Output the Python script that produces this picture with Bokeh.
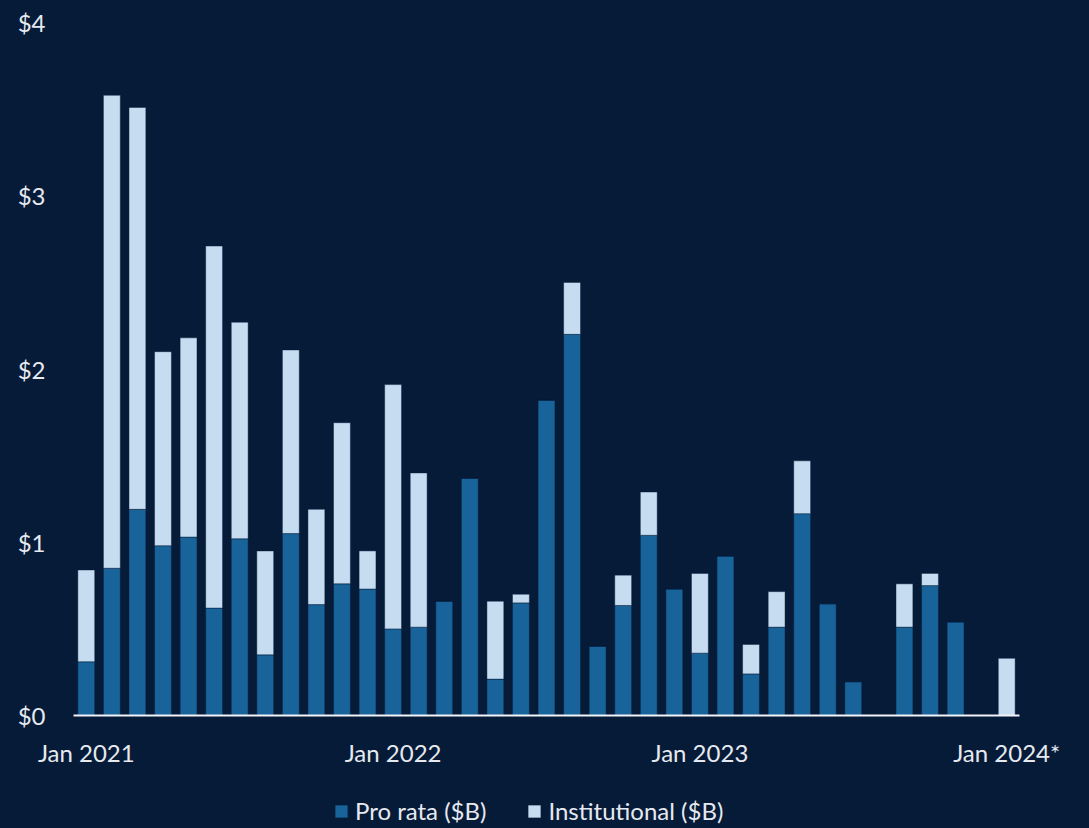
from bokeh.plotting import figure
from bokeh.models import ColumnDataSource, Range1d, FixedTicker, Legend, LegendItem
from bokeh.embed import file_html
from bokeh.resources import INLINE

months = ["2021-01", "2021-02", "2021-03", "2021-04", "2021-05", "2021-06", "2021-07", "2021-08",
          "2021-09", "2021-10", "2021-11", "2021-12", "2022-01", "2022-02", "2022-03", "2022-04",
          "2022-05", "2022-06", "2022-07", "2022-08", "2022-09", "2022-10", "2022-11", "2022-12",
          "2023-01", "2023-02", "2023-03", "2023-04", "2023-05", "2023-06", "2023-07", "2023-08",
          "2023-09", "2023-10", "2023-11", "2023-12", "2024-01"]
pro_rata = [0.31, 0.85, 1.19, 0.98, 1.03, 0.62, 1.02, 0.35, 1.05, 0.64, 0.76, 0.73,
            0.50, 0.51, 0.66, 1.37, 0.21, 0.65, 1.82, 2.20, 0.40, 0.635, 1.04, 0.73,
            0.36, 0.92, 0.24, 0.51, 1.165, 0.645, 0.195, 0.0, 0.51, 0.75, 0.54, 0.0, 0.0]
institutional = [0.53, 2.73, 2.32, 1.12, 1.15, 2.09, 1.25, 0.60, 1.06, 0.55, 0.93, 0.22,
                 1.41, 0.89, 0.0, 0.0, 0.45, 0.05, 0.0, 0.30, 0.0, 0.175, 0.25, 0.0,
                 0.46, 0.0, 0.17, 0.205, 0.305, 0.0, 0.0, 0.0, 0.25, 0.07, 0.0, 0.0, 0.33]
series_labels = ["Pro rata ($B)", "Institutional ($B)"]
x_tick_positions = [0, 12, 24, 36]
x_tick_labels = ["Jan 2021", "Jan 2022", "Jan 2023", "Jan 2024*"]
y_tick_positions = [0, 1, 2, 3, 4]
y_tick_labels = ["$0", "$1", "$2", "$3", "$4"]

BG = "#061B38"
PRO = "#17639A"
INST = "#C6DCF1"
TXT = "#E6EAF0"
FONT = "Lato"

# layout (pixels): plotting area of the bars inside the 1089x828 canvas
W, H = 1089, 828
LEFT, RIGHT, TOP, BOTTOM = 73, 1019, 22, 715
Y_MAX = 4
n = len(months)
x_lo, x_hi = -0.5, n - 0.5
ppx = (RIGHT - LEFT) / (x_hi - x_lo)
ppy = (BOTTOM - TOP) / Y_MAX

src = ColumnDataSource(dict(x=list(range(n)), month=months,
                            pro=pro_rata, inst=institutional))

p = figure(frame_width=W, frame_height=H,
           x_range=Range1d(x_lo - LEFT / ppx, x_hi + (W - RIGHT) / ppx),
           y_range=Range1d(-(H - BOTTOM) / ppy, Y_MAX + TOP / ppy),
           output_backend="svg", toolbar_location=None,
           background_fill_color=BG, border_fill_color=BG,
           outline_line_color=BG, outline_line_width=3,
           min_border_left=0, min_border_right=0, min_border_top=0, min_border_bottom=0)
p.grid.visible = False
p.styles = {"background-color": BG}

rs = p.vbar_stack(["pro", "inst"], x="x", width=0.66, source=src,
                  fill_color=[PRO, INST], line_color=BG, line_alpha=0.45, line_width=1)

p.yaxis.fixed_location = x_lo
p.yaxis.ticker = FixedTicker(ticks=y_tick_positions)
p.yaxis.major_label_overrides = {t: l for t, l in zip(y_tick_positions, y_tick_labels)}
p.yaxis.axis_line_color = None
p.yaxis.major_tick_line_color = None
p.yaxis.minor_tick_line_color = None
p.yaxis.major_label_standoff = 22
p.yaxis.major_label_text_font = FONT
p.yaxis.major_label_text_font_size = "24px"
p.yaxis.major_label_text_color = TXT

p.xaxis.fixed_location = 0
p.xaxis.bounds = (x_lo, x_hi)
p.xaxis.ticker = FixedTicker(ticks=x_tick_positions)
p.xaxis.major_label_overrides = {t: l for t, l in zip(x_tick_positions, x_tick_labels)}
p.xaxis.axis_line_color = "#F0F3F7"
p.xaxis.axis_line_width = 2
p.xaxis.major_tick_line_color = None
p.xaxis.minor_tick_line_color = None
p.xaxis.major_label_standoff = 16
p.xaxis.major_label_text_font = FONT
p.xaxis.major_label_text_font_size = "24px"
p.xaxis.major_label_text_color = TXT

legend = Legend(items=[LegendItem(label=series_labels[0], renderers=[rs[0]]),
                       LegendItem(label=series_labels[1], renderers=[rs[1]])],
                orientation="horizontal", location=(333, 3),
                background_fill_alpha=0, border_line_alpha=0,
                label_text_font=FONT, label_text_font_size="24px", label_text_color=TXT,
                glyph_width=16, glyph_height=16, spacing=40, padding=0, margin=0,
                label_standoff=6)
p.add_layout(legend, "center")

html = file_html(p, INLINE)
html = html.replace("</head>", "<style>html, body { background-color: #061B38; }</style>\n</head>", 1)
open("out.html", "w").write(html)
